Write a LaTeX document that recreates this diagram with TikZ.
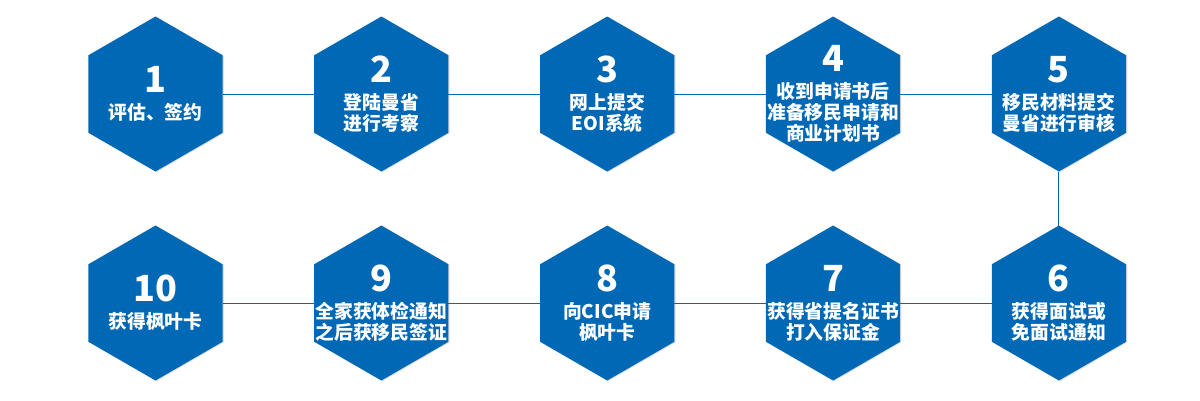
\documentclass[tikz,border=0pt]{standalone}
\usepackage{fontspec}
\setmainfont{Noto Sans CJK SC}
\usepackage{tikz}
\usetikzlibrary{shapes.geometric,positioning,shadows}
\definecolor{stepblue}{RGB}{0,104,180}
\newcommand\stepnum{\fontsize{36}{36}\selectfont}

\begin{document}
\begin{tikzpicture}[
    x=1pt, y=-1pt,
    node distance=54pt and 91.6pt,
    hexa/.style={regular polygon, regular polygon sides=6, shape border rotate=30, minimum size=155pt, inner sep=0pt, outer sep=0pt, fill=stepblue, drop shadow={shadow xshift=1.2pt, shadow yshift=-0.6pt, opacity=0.25}},
    steptext/.style={text=white, font=\bfseries\fontsize{18.8}{21}\selectfont, align=center, inner sep=0pt},
    link/.style={draw=stepblue, line width=1pt}
]
\useasboundingbox (0,0) rectangle (1200,400);

% hexagons, top row left to right, bottom row right to left
\node[hexa] (h1) at (155.5,94) {};
\node[hexa, right=of h1] (h2) {};
\node[hexa, right=of h2] (h3) {};
\node[hexa, right=of h3] (h4) {};
\node[hexa, right=of h4] (h5) {};
\node[hexa, below=of h5] (h6) {};
\node[hexa, left=of h6] (h7) {};
\node[hexa, left=of h7] (h8) {};
\node[hexa, left=of h8] (h9) {};
\node[hexa, left=of h9] (h10) {};

% links
\draw[link] (h1.east) -- (h2.west);
\draw[link] (h2.east) -- (h3.west);
\draw[link] (h3.east) -- (h4.west);
\draw[link] (h4.east) -- (h5.west);
\draw[link] (h5.south) -- (h6.north);
\draw[link] (h6.west) -- (h7.east);
\draw[link] (h7.west) -- (h8.east);
\draw[link] (h8.west) -- (h9.east);
\draw[link] (h9.west) -- (h10.east);

% texts
\node[steptext] (t1) at (h1) {{\stepnum 1}\\[6pt]评估、签约};
\node[steptext] (t2) at (h2) {{\stepnum 2}\\[6pt]登陆曼省\\进行考察};
\node[steptext] (t3) at (h3) {{\stepnum 3}\\[6pt]网上提交\\EOI系统};
\node[steptext] (t4) at (h4) {{\stepnum 4}\\[6pt]收到申请书后\\准备移民申请和\\商业计划书};
\node[steptext] (t5) at (h5) {{\stepnum 5}\\[6pt]移民材料提交\\曼省进行审核};
\node[steptext] (t6) at (h6) {{\stepnum 6}\\[6pt]获得面试或\\免面试通知};
\node[steptext] (t7) at (h7) {{\stepnum 7}\\[6pt]获得省提名证书\\打入保证金};
\node[steptext] (t8) at (h8) {{\stepnum 8}\\[6pt]向CIC申请\\枫叶卡};
\node[steptext] (t9) at (h9) {{\stepnum 9}\\[6pt]全家获体检通知\\之后获移民签证};
\node[steptext] (t10) at (h10) {{\stepnum 10}\\[6pt]获得枫叶卡};
\end{tikzpicture}
\end{document}
